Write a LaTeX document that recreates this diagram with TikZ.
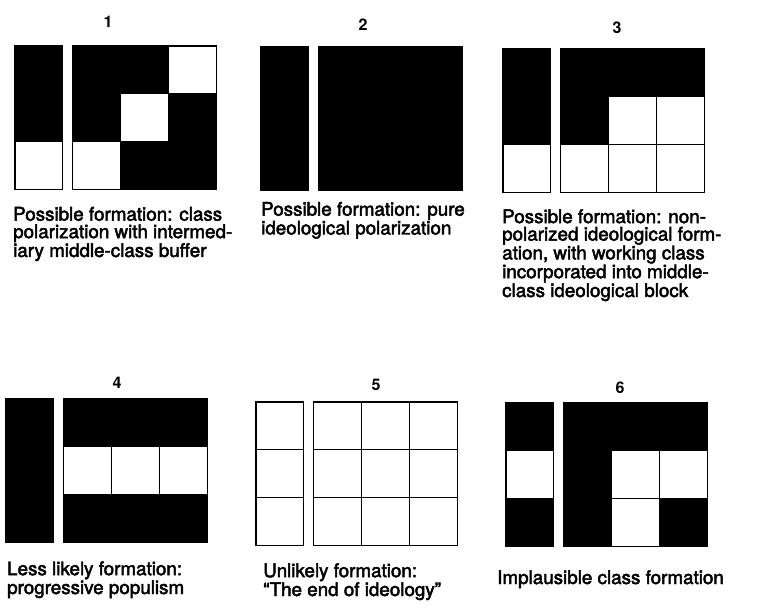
\documentclass[tikz,border=0pt]{standalone}
\usepackage{fontspec}
\setmainfont{TeX Gyre Heros}
\usepackage{xcolor}
\usepackage{tikz}
\colorlet{cell0}{white}
\colorlet{cell1}{black}
\newcommand{\capfont}{\fontsize{18.8}{17.5}\selectfont\addfontfeature{FakeBold=2.5}}

\begin{document}
\begin{tikzpicture}[
  x=1pt, y=-1pt,
  cell/.style={draw=black, line width=1.3pt},
  numtag/.style={font=\fontsize{16}{16}\selectfont\bfseries, inner sep=0pt},
  captag/.style={font=\capfont, align=left, anchor=base west, inner sep=0pt}
]
\useasboundingbox (0,0) rectangle (771,609);

% ==== cell geometry
\def\cs{47.8}   % cell size
\def\gap{10}    % column-to-grid gap

% ==== panels: number, x/y of the column's top-left, column cells, grid cells (row by row)
\foreach \i/\x/\y/\nx/\ny/\col/\grid in {
    1/15/46/108/22/{1,1,0}/{1,1,0,1,0,1,0,1,1},
    2/261/47/363/25/{1,1,1}/{1,1,1,1,1,1,1,1,1},
    3/503/49/617/28/{1,1,0}/{1,1,1,1,0,0,0,0,0},
    4/6/399/117/383/{1,1,1}/{1,1,1,0,0,0,1,1,1},
    5/256/402/376/385/{0,0,0}/{0,0,0,0,0,0,0,0,0},
    6/506/403/620/388/{1,0,1}/{1,1,1,1,0,0,1,0,1}} {
  \node[numtag] (num\i) at (\nx,\ny) {\i};
  % narrow column
  \foreach \v [count=\k from 0] in \col {
    \filldraw[cell, fill=cell\v] (\x,{\y+\k*\cs}) rectangle ++(\cs,\cs);
  }
  % 3 x 3 block
  \foreach \v [count=\k from 0] in \grid {
    \pgfmathtruncatemacro{\r}{int(\k/3)}
    \pgfmathtruncatemacro{\c}{mod(\k,3)}
    \filldraw[cell, fill=cell\v] ({\x+\cs+\gap+\c*\cs},{\y+\r*\cs}) rectangle ++(\cs,\cs);
  }
}

% ==== captions (anchored on the baseline of the last line)
\node[captag] (cap1) at (13,257) {Possible formation: class\\polarization with intermed-\\iary middle-class buffer};
\node[captag] (cap2) at (261,234.5) {Possible formation: pure\\ideological polarization};
\node[captag] (cap3) at (502,297) {Possible formation: non-\\polarized ideological form-\\ation, with working class\\incorporated into middle-\\class ideological block};
\node[captag] (cap4) at (7,594) {Less likely formation:\\progressive populism};
\node[captag] (cap5) at (263,596) {Unlikely formation:\\``The end of ideology''};
\node[captag] (cap6) at (497,584) {Implausible class formation};

\end{tikzpicture}
\end{document}
